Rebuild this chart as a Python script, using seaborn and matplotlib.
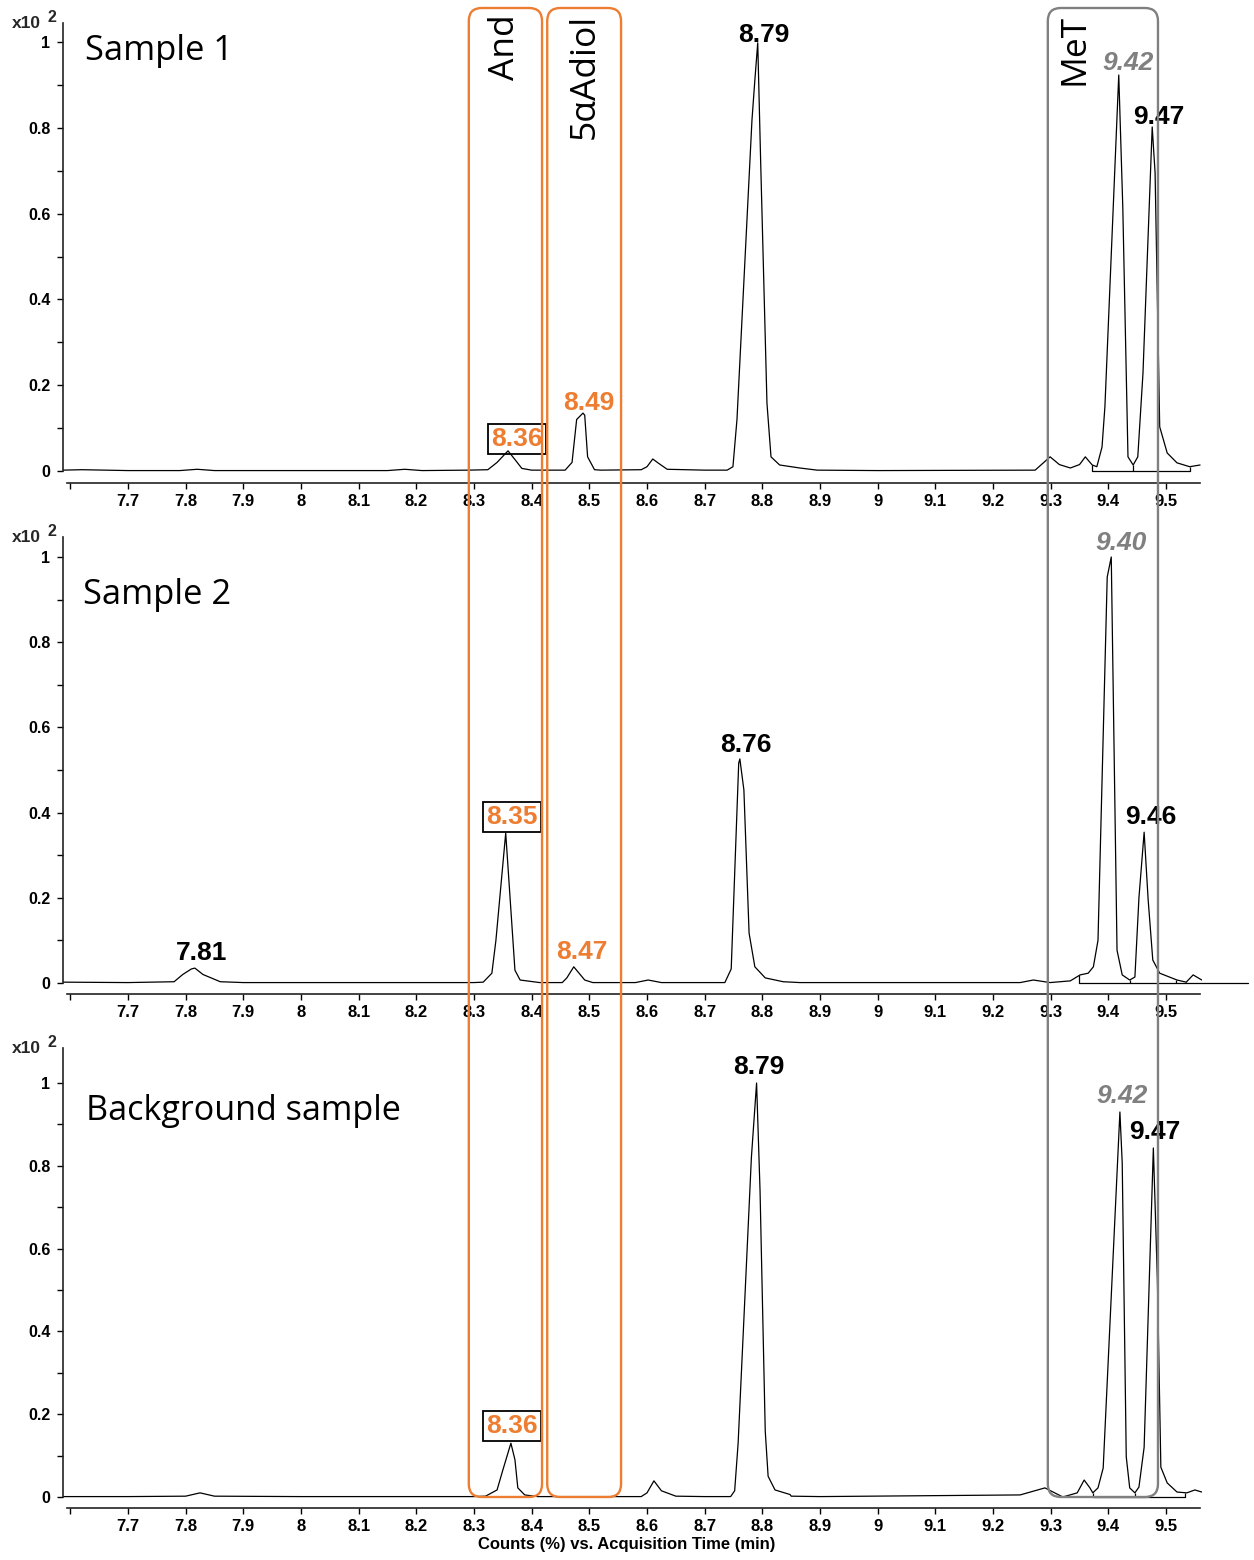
import matplotlib
matplotlib.use("Agg")
import numpy as np
import pandas as pd
import matplotlib.pyplot as plt
import seaborn as sns
from matplotlib.patches import FancyBboxPatch
from matplotlib.transforms import IdentityTransform

# ---------------- data ----------------
s1_time = [7.587, 7.62, 7.66, 7.70, 7.79, 7.82, 7.85, 8.15, 8.18, 8.21, 8.29, 8.324, 8.34, 8.359,
           8.372, 8.383, 8.40, 8.458, 8.47, 8.478, 8.489, 8.492, 8.497, 8.509, 8.52, 8.59, 8.60,
           8.61, 8.62, 8.635, 8.70, 8.739, 8.749, 8.756, 8.782, 8.787, 8.792, 8.797, 8.808, 8.815,
           8.83, 8.865, 8.895, 9.0, 9.273, 9.299, 9.315, 9.334, 9.35, 9.36, 9.372, 9.38, 9.389,
           9.394, 9.418, 9.425, 9.434, 9.443, 9.451, 9.46, 9.476, 9.481, 9.489, 9.502, 9.519,
           9.541, 9.559]
s1_counts = [0.002, 0.003, 0.002, 0.001, 0.001, 0.004, 0.001, 0.001, 0.004, 0.001, 0.002, 0.003,
             0.02, 0.047, 0.025, 0.006, 0.002, 0.002, 0.02, 0.12, 0.135, 0.13, 0.033, 0.003, 0.002,
             0.003, 0.01, 0.028, 0.018, 0.004, 0.002, 0.002, 0.01, 0.12, 0.818, 0.911, 0.998, 0.725,
             0.158, 0.033, 0.014, 0.007, 0.002, 0.001, 0.002, 0.033, 0.015, 0.007, 0.015, 0.033,
             0.014, 0.01, 0.056, 0.15, 0.923, 0.615, 0.033, 0.014, 0.033, 0.228, 0.802, 0.695,
             0.103, 0.042, 0.019, 0.01, 0.014]

s2_time = [7.587, 7.70, 7.78, 7.795, 7.81, 7.816, 7.83, 7.86, 7.90, 8.00, 8.30, 8.316, 8.331,
           8.338, 8.355, 8.371, 8.38, 8.414, 8.453, 8.461, 8.473, 8.492, 8.506, 8.58, 8.602, 8.625,
           8.70, 8.735, 8.746, 8.759, 8.761, 8.768, 8.777, 8.787, 8.805, 8.836, 8.865, 9.00, 9.247,
           9.27, 9.299, 9.334, 9.351, 9.365, 9.374, 9.382, 9.398, 9.405, 9.415, 9.424, 9.437,
           9.446, 9.453, 9.462, 9.469, 9.477, 9.489, 9.519, 9.535, 9.547, 9.562]
s2_counts = [0.002, 0.001, 0.003, 0.02, 0.033, 0.035, 0.02, 0.003, 0.001, 0.001, 0.001, 0.002,
             0.023, 0.10, 0.352, 0.03, 0.007, 0.001, 0.001, 0.012, 0.038, 0.007, 0.001, 0.001,
             0.007, 0.001, 0.001, 0.001, 0.033, 0.516, 0.526, 0.453, 0.117, 0.038, 0.012, 0.003,
             0.001, 0.001, 0.001, 0.007, 0.001, 0.005, 0.019, 0.023, 0.038, 0.10, 0.953, 1.0,
             0.077, 0.019, 0.007, 0.014, 0.2, 0.354, 0.195, 0.054, 0.023, 0.007, 0.002, 0.019, 0.007]

bg_time = [7.587, 7.70, 7.80, 7.825, 7.85, 8.00, 8.30, 8.32, 8.34, 8.35, 8.364, 8.371, 8.376,
           8.388, 8.41, 8.59, 8.60, 8.612, 8.625, 8.65, 8.70, 8.745, 8.752, 8.758, 8.781, 8.786,
           8.79, 8.796, 8.805, 8.81, 8.822, 8.848, 8.85, 8.90, 9.247, 9.29, 9.321, 9.346, 9.358,
           9.368, 9.373, 9.382, 9.391, 9.42, 9.424, 9.431, 9.437, 9.446, 9.453, 9.462, 9.478,
           9.485, 9.491, 9.502, 9.519, 9.536, 9.55, 9.562]
bg_counts = [0.001, 0.001, 0.002, 0.01, 0.002, 0.001, 0.001, 0.002, 0.017, 0.065, 0.13, 0.09,
             0.022, 0.005, 0.001, 0.001, 0.01, 0.039, 0.015, 0.002, 0.001, 0.001, 0.015, 0.13,
             0.82, 0.92, 1.0, 0.74, 0.16, 0.05, 0.017, 0.006, 0.002, 0.001, 0.005, 0.022, 0.0,
             0.01, 0.041, 0.022, 0.01, 0.022, 0.07, 0.93, 0.807, 0.097, 0.022, 0.01, 0.024, 0.12,
             0.843, 0.524, 0.072, 0.034, 0.012, 0.01, 0.017, 0.012]

panel_titles = ["Sample 1", "Sample 2", "Background sample"]

# integration baselines (MeT region): start/end and drop-line positions
s1_base = [9.372, 9.541]
s1_drop_time = [9.372, 9.443, 9.541]
s1_drop_height = [0.014, 0.014, 0.010]
s2_base = [9.349, 9.642]
s2_drop_time = [9.349, 9.437, 9.517, 9.535]
s2_drop_height = [0.019, 0.007, 0.007, 0.003]
bg_base = [9.373, 9.533]
bg_drop_time = [9.373, 9.446, 9.533]
bg_drop_height = [0.010, 0.010, 0.010]

# peak labels
s1_label_text = ["8.79", "9.42", "9.47", "8.49", "8.36"]
s1_label_time = [8.792, 9.418, 9.476, 8.489, 8.359]
s1_label_height = [0.998, 0.923, 0.802, 0.135, 0.047]
s1_label_kind = ["black", "gray", "black", "orange", "orange_box"]

s2_label_text = ["9.40", "8.76", "8.35", "9.46", "7.81", "8.47"]
s2_label_time = [9.405, 8.761, 8.355, 9.462, 7.816, 8.473]
s2_label_height = [1.0, 0.526, 0.352, 0.354, 0.035, 0.038]
s2_label_kind = ["gray", "black", "orange_box", "black", "black", "orange"]

bg_label_text = ["8.79", "9.42", "9.47", "8.36"]
bg_label_time = [8.79, 9.42, 9.478, 8.364]
bg_label_height = [1.0, 0.93, 0.843, 0.13]
bg_label_kind = ["black", "gray", "black", "orange_box"]

# analyte windows spanning all panels
window_names = ["And", "5\u03b1Adiol", "MeT"]
window_start = [8.291, 8.427, 9.295]
window_end = [8.418, 8.555, 9.486]
window_kind = ["orange", "orange", "gray"]

xtick_values = [7.6, 7.7, 7.8, 7.9, 8.0, 8.1, 8.2, 8.3, 8.4, 8.5, 8.6, 8.7, 8.8, 8.9,
                9.0, 9.1, 9.2, 9.3, 9.4, 9.5]
xtick_labels = ["", "7.7", "7.8", "7.9", "8", "8.1", "8.2", "8.3", "8.4", "8.5", "8.6", "8.7",
                "8.8", "8.9", "9", "9.1", "9.2", "9.3", "9.4", "9.5"]
ytick_values = [0, 0.2, 0.4, 0.6, 0.8, 1.0]
ytick_labels = ["0", "0.2", "0.4", "0.6", "0.8", "1"]
yminor_values = [0.1, 0.3, 0.5, 0.7, 0.9]

# ---------------- styling ----------------
sns.set_theme(style="ticks")
plt.rcParams["font.family"] = ["Liberation Sans", "DejaVu Sans"]
TITLE_FONT = ["Open Sans", "DejaVu Sans"]
ORANGE = "#ED7D31"
GRAY = "#808080"

W, H = 1254, 1560
fig = plt.figure(figsize=(W / 100, H / 100), dpi=100)
fig.patch.set_facecolor("white")

XLIM = (7.587, 9.562)
X_LEFT, X_RIGHT = 62.8, 1201.8
# pixel layout: spine top, x-axis line, zero level, pixels per unit
layout = [(23, 483, 471, 429), (537, 994, 983, 426), (1048, 1508, 1497, 414)]

traces = [(s1_time, s1_counts), (s2_time, s2_counts), (bg_time, bg_counts)]
bases = [(s1_base, s1_drop_time, s1_drop_height),
         (s2_base, s2_drop_time, s2_drop_height),
         (bg_base, bg_drop_time, bg_drop_height)]
labels = [(s1_label_text, s1_label_time, s1_label_height, s1_label_kind),
          (s2_label_text, s2_label_time, s2_label_height, s2_label_kind),
          (bg_label_text, bg_label_time, bg_label_height, bg_label_kind)]
# label offsets in pixels (dx right, dy up) from the peak apex to the text centre
offsets = [[(6, 8), (9, 12), (7, 10), (6, 10), (9, 12)],
           [(10, 14), (6, 14), (6, 16), (7, 15), (7, 15), (8, 15)],
           [(2, 16), (2, 16), (1, 16), (1, 17)]]
title_pos = [(85, 60), (83, 604), (86, 1120)]
title_size = [24.8, 24.8, 24.6]

axes = []
for i, (top, bot, zero, unit) in enumerate(layout):
    ax = fig.add_axes([X_LEFT / W, 1 - bot / H, (X_RIGHT - X_LEFT) / W, (bot - top) / H])
    axes.append(ax)
    ylim = ((zero - bot) / unit, (zero - top) / unit)
    t, c = traces[i]
    df = pd.DataFrame({"time": t, "counts": c})
    sns.lineplot(data=df, x="time", y="counts", ax=ax, color="black", linewidth=0.9,
                 sort=False, estimator=None)
    b, dt, dh = bases[i]
    ax.plot(b, [0, 0], color="black", lw=0.9, clip_on=False)
    ax.vlines(dt, 0, dh, color="black", lw=0.9)
    ax.set_xlim(*XLIM)
    ax.set_ylim(*ylim)
    ax.set_facecolor("none")
    for s in ["top", "right"]:
        ax.spines[s].set_visible(False)
    ax.spines["left"].set_bounds(0, ylim[1])
    ax.spines["bottom"].set_bounds(7.595, 9.559)
    for s in ["left", "bottom"]:
        ax.spines[s].set_linewidth(1.2)
        ax.spines[s].set_color("#222222")
    ax.set_xticks(xtick_values)
    ax.set_xticklabels(xtick_labels, fontweight="bold", fontsize=12)
    ax.set_yticks(ytick_values)
    ax.set_yticklabels(ytick_labels, fontweight="bold", fontsize=11.5)
    ax.set_yticks(yminor_values, minor=True)
    ax.tick_params(axis="x", direction="out", length=4, width=1, pad=4, colors="black")
    ax.tick_params(axis="y", which="both", direction="out", length=4, width=1, pad=5,
                   colors="black")
    ax.set_xlabel("")
    ax.set_ylabel("")
    ax.grid(False)

    # x10^2 multiplier
    fig.text(12, H - (top + 5), "x10", transform=IdentityTransform(), fontsize=12.5,
             fontweight="bold", ha="left", va="baseline")
    fig.text(48, H - (top - 1), "2", transform=IdentityTransform(), fontsize=11.5,
             fontweight="bold", ha="left", va="baseline")

    # panel title
    tx, ty = title_pos[i]
    fig.text(tx, H - ty, panel_titles[i], transform=IdentityTransform(),
             fontsize=title_size[i], family=TITLE_FONT, ha="left", va="baseline",
             color="black")

    # peak labels
    txt, lt, lh, lk = labels[i]
    for j in range(len(txt)):
        dx, dy = offsets[i][j]
        kind = lk[j]
        kw = dict(fontsize=19, fontweight="bold", ha="center", va="center",
                  textcoords="offset pixels", annotation_clip=False)
        if kind == "black":
            kw.update(color="black")
        elif kind == "gray":
            kw.update(color=GRAY, style="italic")
        elif kind == "orange":
            kw.update(color=ORANGE)
        else:
            kw.update(color=ORANGE,
                      bbox=dict(boxstyle="square,pad=0.12", fc="none", ec="black", lw=1.3))
        ax.annotate(txt[j], xy=(lt[j], lh[j]), xytext=(dx, dy), **kw)

# x-axis title under the bottom panel
fig.text(626.5, H - 1545, "Counts (%) vs. Acquisition Time (min)",
         transform=IdentityTransform(), fontsize=12, fontweight="bold",
         ha="center", va="center", color="black")

# analyte windows (rounded boxes across all three panels)
fig.canvas.draw()
ax3 = axes[-1]
y_bottom = ax3.transData.transform((8.0, 0.0))[1]
y_top = H - 8
name_shift = [0, 1, -28]
for name, t0, t1, kind, sh in zip(window_names, window_start, window_end, window_kind,
                                  name_shift):
    x0 = ax3.transData.transform((t0, 0))[0]
    x1 = ax3.transData.transform((t1, 0))[0]
    col = ORANGE if kind == "orange" else GRAY
    patch = FancyBboxPatch((x0, y_bottom), x1 - x0, y_top - y_bottom,
                           boxstyle="round,pad=0,rounding_size=13",
                           transform=IdentityTransform(), fc="none", ec=col, lw=1.7,
                           zorder=5)
    fig.add_artist(patch)
    fig.text((x0 + x1) / 2 + sh, H - 14, name, transform=IdentityTransform(), rotation=90,
             fontsize=25.5, family=TITLE_FONT, ha="center", va="top", color="black",
             zorder=6)

fig.savefig("out.png", dpi=100, facecolor="white")
